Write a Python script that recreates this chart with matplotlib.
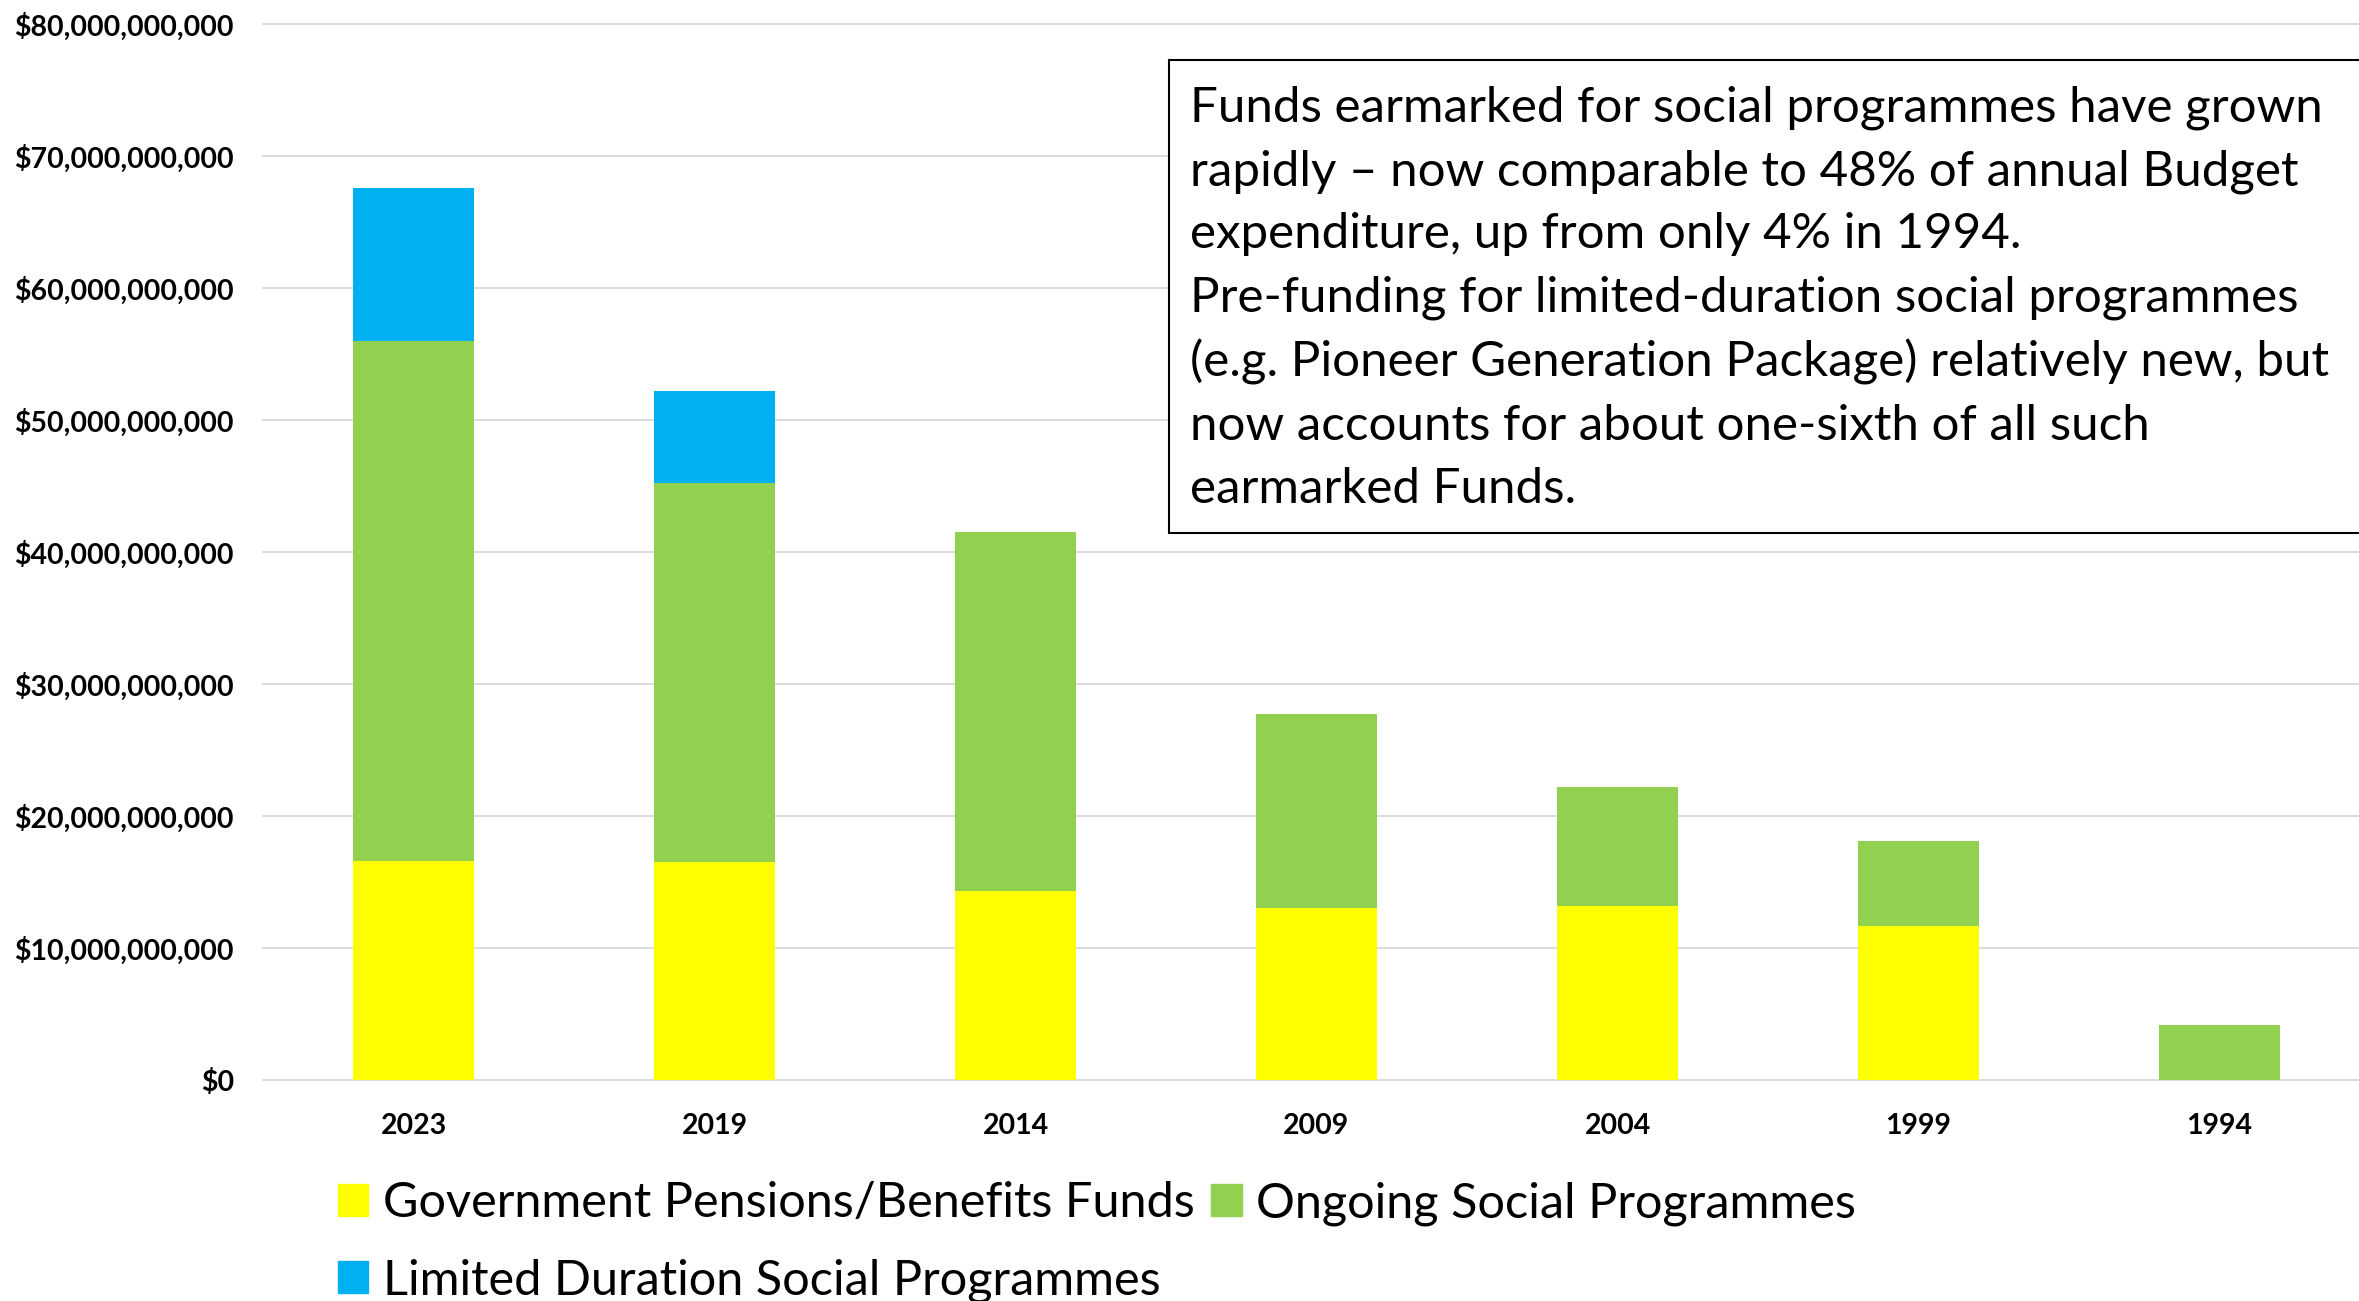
"""Stacked bars of funds earmarked for social programmes, 1994-2023."""

import matplotlib
matplotlib.use("agg")
import matplotlib.pyplot as plt
from matplotlib.patches import Patch, Rectangle
from matplotlib.ticker import FuncFormatter, MultipleLocator

YEARS = ["2023", "2019", "2014", "2009", "2004", "1999", "1994"]
# values in billions of dollars
PENSIONS = [16.6, 16.5, 14.3, 13.0, 13.2, 11.7, 0.0]
ONGOING = [39.4, 28.7, 27.2, 14.7, 9.0, 6.4, 4.2]
LIMITED = [11.6, 7.0, 0.0, 0.0, 0.0, 0.0, 0.0]
SERIES = ["Government Pensions/Benefits Funds", "Ongoing Social Programmes",
          "Limited Duration Social Programmes"]
COLORS = ["#FFFF00", "#92D050", "#00B0F0"]

NOTE = ("Funds earmarked for social programmes have grown\n"
        "rapidly \u2013 now comparable to 48% of annual Budget\n"
        "expenditure, up from only 4% in 1994.\n"
        "Pre-funding for limited-duration social programmes\n"
        "(e.g. Pioneer Generation Package) relatively new, but\n"
        "now accounts for about one-sixth of all such\n"
        "earmarked Funds.")

plt.rcParams["font.family"] = ["Lato", "DejaVu Sans"]

W, H = 2359, 1301
fig = plt.figure(figsize=(W / 100, H / 100), dpi=100)
# axes box in pixels: left 263, right ~2370, bottom 1080, top 24
ax = fig.add_axes([263 / W, (H - 1080) / H, (2370 - 263) / W, (1080 - 24) / H])

x = list(range(len(YEARS)))
pens = [v * 1e9 for v in PENSIONS]
ong = [v * 1e9 for v in ONGOING]
lim = [v * 1e9 for v in LIMITED]
bottom2 = [a + b for a, b in zip(pens, ong)]
ax.bar(x, pens, width=0.4, color=COLORS[0], zorder=2)
ax.bar(x, ong, width=0.4, bottom=pens, color=COLORS[1], zorder=2)
ax.bar(x, lim, width=0.4, bottom=bottom2, color=COLORS[2], zorder=2)

ax.set_xlim(-0.5, len(YEARS) - 0.5)
ax.set_ylim(0, 80e9)
ax.yaxis.set_major_locator(MultipleLocator(10e9))
ax.yaxis.set_major_formatter(FuncFormatter(lambda v, _: f"${v:,.0f}"))
ax.set_xticks(x, YEARS)
ax.grid(axis="y", color="#D9D9D9", lw=1.3, zorder=0)
for gl in ax.get_ygridlines():
    gl.set_clip_on(False)
for s in ax.spines.values():
    s.set_visible(False)
ax.tick_params(axis="y", length=0, labelsize=20.5, pad=21)
ax.tick_params(axis="x", length=0, labelsize=20.5, pad=24)
for lab in ax.get_xticklabels() + ax.get_yticklabels():
    lab.set_fontweight("bold")

# annotation box
fig.add_artist(Rectangle((1169 / W, (H - 533) / H), (2400 - 1169) / W, (533 - 60) / H,
                         transform=fig.transFigure, facecolor="white",
                         edgecolor="black", lw=1.5, zorder=5))
fig.text(1190 / W, (H - 86) / H, NOTE, fontsize=35.5, va="top", ha="left",
         linespacing=1.52, zorder=6)

handles = [Patch(color=COLORS[0], label=SERIES[0]),
           Patch(color=COLORS[2], label=SERIES[2]),
           Patch(color=COLORS[1], label=SERIES[1])]
fig.legend(handles=handles, ncol=2, loc="upper left",
           bbox_to_anchor=(338 / W, (H - 1181) / H), frameon=False,
           fontsize=35, handlelength=0.62, handleheight=0.62,
           handletextpad=0.3, columnspacing=0.35, labelspacing=0.68,
           borderpad=0, borderaxespad=0)

fig.savefig("out.png", dpi=100)
